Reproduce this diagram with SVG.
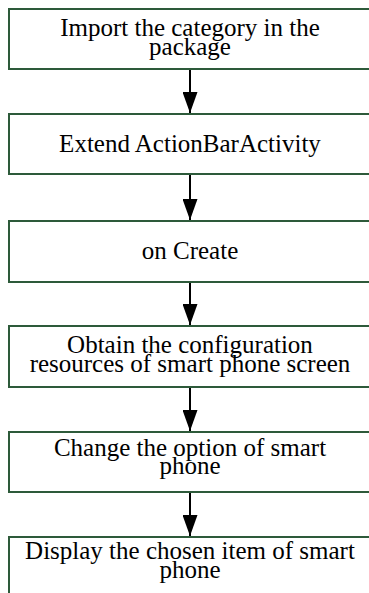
<svg xmlns="http://www.w3.org/2000/svg" width="369" height="593" viewBox="0 0 369 593">
  <style>
    .box { fill: #ffffff; stroke: #2d5a3a; stroke-width: 2; }
    .label { font-size: 25px; fill: #000000; text-anchor: middle; }
    .edge { stroke: #000000; stroke-width: 2; fill: none; }
  </style>
  <defs>
    <marker id="arrow" markerUnits="userSpaceOnUse" markerWidth="21" markerHeight="15" refX="21" refY="7.5" orient="auto" viewBox="0 0 21 15">
      <path d="M0,0 L21,7.5 L0,15 Z" fill="#000000"/>
    </marker>
  </defs>
  <rect width="369" height="593" fill="#ffffff"/>

  <g id="labels-root" font-family="Liberation Serif, DejaVu Serif, serif">
  <g id="node-import">
    <rect class="box" x="9" y="9" width="362" height="60"/>
    <text class="label" x="190" y="36">Import the category in the</text>
    <text class="label" x="190" y="55">package</text>
  </g>

  <g id="node-extend">
    <rect class="box" x="9" y="114" width="362" height="60"/>
    <text class="label" x="190" y="152">Extend ActionBarActivity</text>
  </g>

  <g id="node-oncreate">
    <rect class="box" x="9" y="221" width="362" height="61"/>
    <text class="label" x="190" y="259">on Create</text>
  </g>

  <g id="node-obtain">
    <rect class="box" x="9" y="326" width="362" height="61"/>
    <text class="label" x="190" y="353">Obtain the configuration</text>
    <text class="label" x="190" y="372">resources of smart phone screen</text>
  </g>

  <g id="node-change">
    <rect class="box" x="9" y="432" width="362" height="60"/>
    <text class="label" x="190" y="456">Change the option of smart</text>
    <text class="label" x="190" y="474">phone</text>
  </g>

  <g id="node-display">
    <rect class="box" x="9" y="537" width="362" height="70"/>
    <text class="label" x="190" y="559">Display the chosen item of smart</text>
    <text class="label" x="190" y="578">phone</text>
  </g>
  </g>

  <g id="connectors">
    <line class="edge" x1="190" y1="70" x2="190" y2="113" marker-end="url(#arrow)"/>
    <line class="edge" x1="190" y1="175" x2="190" y2="220" marker-end="url(#arrow)"/>
    <line class="edge" x1="190" y1="283" x2="190" y2="325" marker-end="url(#arrow)"/>
    <line class="edge" x1="190" y1="388" x2="190" y2="431" marker-end="url(#arrow)"/>
    <line class="edge" x1="190" y1="493" x2="190" y2="536" marker-end="url(#arrow)"/>
  </g>
</svg>
